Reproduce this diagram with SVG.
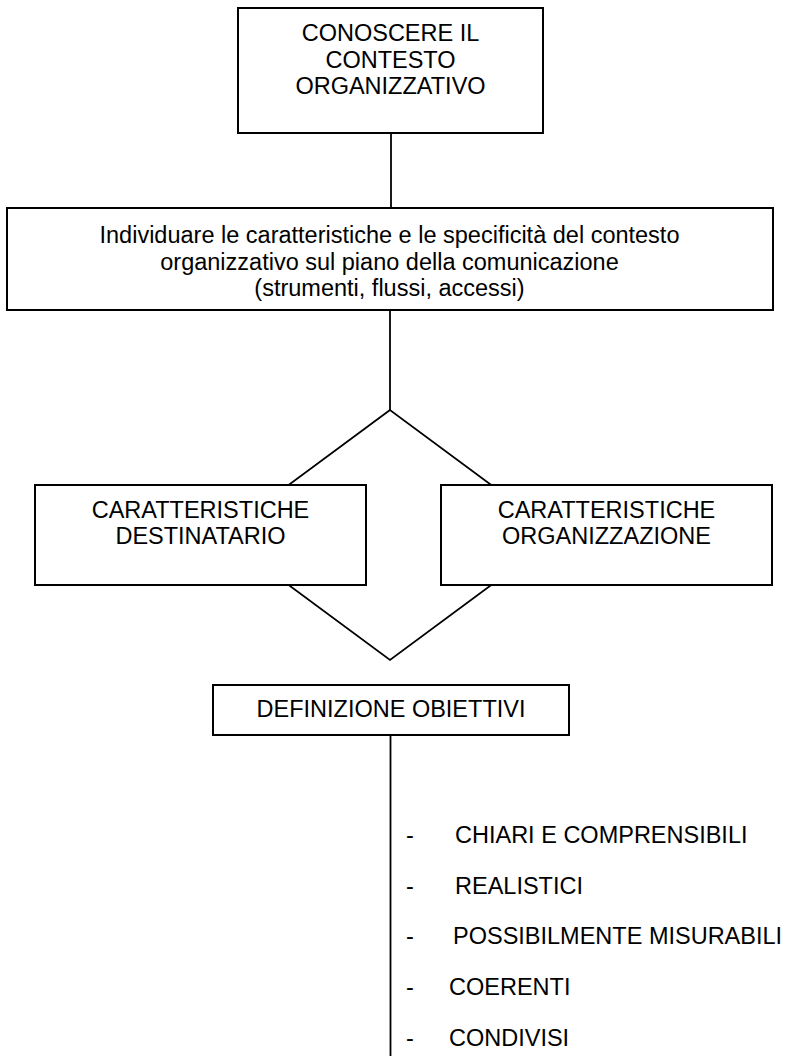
<svg xmlns="http://www.w3.org/2000/svg" width="791" height="1056" viewBox="0 0 791 1056">
  <style>
    .box { fill: #ffffff; stroke: #000000; stroke-width: 2; }
    .link { fill: none; stroke: #000000; stroke-width: 1.8; }
    text { font-family: "Liberation Sans", Arial, sans-serif; font-size: 23.5px; fill: #000000; }
    .c { text-anchor: middle; }
  </style>
  <rect width="791" height="1056" fill="#ffffff"/>

  <!-- connectors: drawn first so the boxes sit on top -->
  <g id="connectors">
    <line class="link" x1="391" y1="133" x2="391" y2="208"/>
    <line class="link" x1="390" y1="310" x2="390" y2="410"/>
    <!-- rhombus joining the two characteristic boxes -->
    <polygon class="link" points="390,410 221,535 390,660 559,535"/>
    <line class="link" x1="390.5" y1="735" x2="390.5" y2="1056"/>
  </g>

  <g id="node-contesto">
    <rect class="box" x="238" y="8" width="305" height="125"/>
    <text class="c" x="390.5" y="41">CONOSCERE IL</text>
    <text class="c" x="390.5" y="67.5">CONTESTO</text>
    <text class="c" x="390.5" y="94">ORGANIZZATIVO</text>
  </g>

  <g id="node-individuare">
    <rect class="box" x="7" y="208" width="766" height="102"/>
    <text class="c" x="389.5" y="243">Individuare le caratteristiche e le specificità del contesto</text>
    <text class="c" x="389.5" y="269.5">organizzativo sul piano della comunicazione</text>
    <text class="c" x="389.5" y="296">(strumenti, flussi, accessi)</text>
  </g>

  <g id="node-destinatario">
    <rect class="box" x="35" y="485" width="331" height="100"/>
    <text class="c" x="200.5" y="518">CARATTERISTICHE</text>
    <text class="c" x="200.5" y="544">DESTINATARIO</text>
  </g>

  <g id="node-organizzazione">
    <rect class="box" x="441" y="485" width="331" height="100"/>
    <text class="c" x="606.5" y="518">CARATTERISTICHE</text>
    <text class="c" x="606.5" y="544">ORGANIZZAZIONE</text>
  </g>

  <g id="node-obiettivi">
    <rect class="box" x="213" y="685" width="356" height="50"/>
    <text class="c" x="391" y="717">DEFINIZIONE OBIETTIVI</text>
  </g>

  <g id="node-requisiti">
    <text x="406" y="843">-</text>
    <text x="455" y="843">CHIARI E COMPRENSIBILI</text>
    <text x="406" y="893.5">-</text>
    <text x="455" y="893.5">REALISTICI</text>
    <text x="406" y="944">-</text>
    <text x="453" y="944">POSSIBILMENTE MISURABILI</text>
    <text x="406" y="995">-</text>
    <text x="449" y="995">COERENTI</text>
    <text x="406" y="1046">-</text>
    <text x="449" y="1046">CONDIVISI</text>
  </g>
</svg>
